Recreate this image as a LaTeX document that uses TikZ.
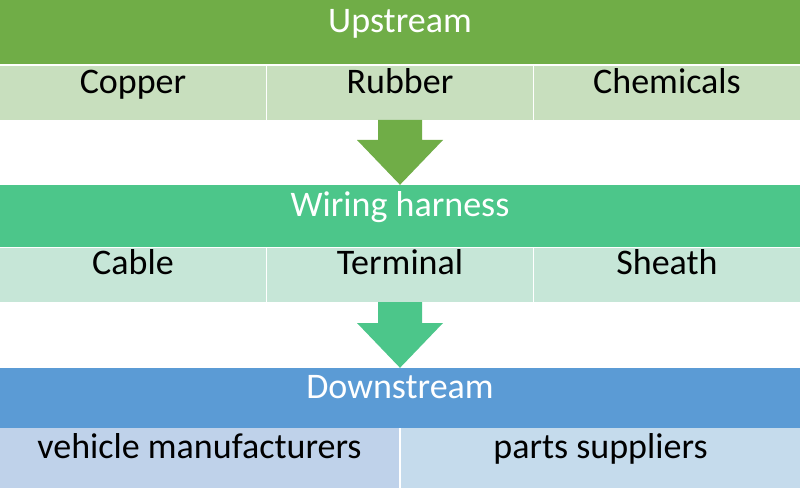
\documentclass[tikz,border=0pt]{standalone}
\usepackage{fontspec}
\setmainfont{Carlito}
\usetikzlibrary{positioning}
\definecolor{upgreen}{HTML}{70AD47}
\definecolor{upcell}{HTML}{C8DFBE}
\definecolor{wiregreen}{HTML}{4CC68A}
\definecolor{wirecell}{HTML}{C6E6D7}
\definecolor{downblue}{HTML}{5B9BD5}
\definecolor{downcellA}{HTML}{BFD2EA}
\definecolor{downcellB}{HTML}{C5DBEC}
\tikzset{
  bar/.style={minimum width=800pt, minimum height=64pt, inner sep=0pt, text=white,
    font=\fontsize{36}{40}\selectfont, text height=0.5em, text depth=0.45em},
  cell/.style={minimum width=266pt, minimum height=54pt, inner sep=0pt,
    font=\fontsize{36}{40}\selectfont, text height=0.5em, text depth=0.45em},
  half/.style={cell, minimum width=399pt, minimum height=60pt},
}
\begin{document}
\begin{tikzpicture}[x=1pt, y=1pt]
\useasboundingbox (0,0) rectangle (800,488);
\fill[white] (0,0) rectangle (800,488);
% upstream
\node[bar, fill=upgreen] (up) at (400,456) {Upstream};
\node[cell, fill=upcell] (copper) at (133,395) {Copper};
\node[cell, fill=upcell] (rubber) at (400,395) {Rubber};
\node[cell, fill=upcell] (chem) at (667,395) {Chemicals};
% wiring harness
\node[bar, fill=wiregreen, minimum height=62pt] (wire) at (400,272) {Wiring harness};
\node[cell, fill=wirecell] (cable) at (133,213.5) {Cable};
\node[cell, fill=wirecell] (term) at (400,213.5) {Terminal};
\node[cell, fill=wirecell] (sheath) at (667,213.5) {Sheath};
% downstream
\node[bar, fill=downblue, minimum height=60pt] (down) at (400,90) {Downstream};
\node[half, fill=downcellA] (vehicle) at (199.5,30) {vehicle manufacturers};
\node[half, fill=downcellB] (parts) at (600.5,30) {parts suppliers};
% arrows
\fill[upgreen] (378,368) -- (422,368) -- (422,348) -- (443,348) -- (wire.north) -- (357,348) -- (378,348) -- cycle;
\fill[wiregreen] (378,186) -- (422,186) -- (422,165) -- (443,165) -- (down.north) -- (357,165) -- (378,165) -- cycle;
\end{tikzpicture}
\end{document}
